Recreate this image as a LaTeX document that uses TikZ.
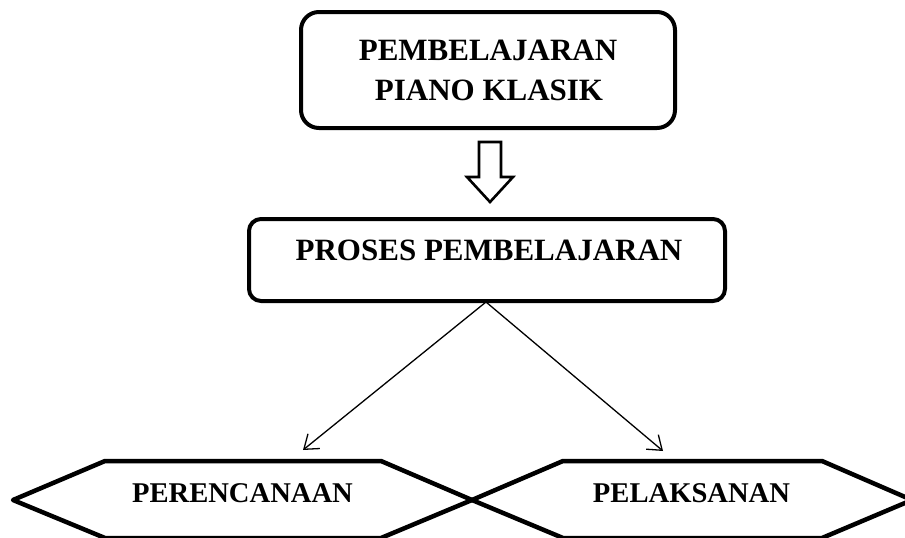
\documentclass[tikz,border=0pt]{standalone}
\usepackage{fontspec}
\setmainfont{Liberation Serif}
\usetikzlibrary{arrows.meta}
\tikzset{
  boxstyle/.style={draw=black, line width=4pt, fill=white, inner sep=0pt},
  boxtext/.style={font=\fontsize{31}{40}\selectfont\bfseries, inner sep=0pt, anchor=base},
  hextext/.style={font=\fontsize{28.6}{34}\selectfont\bfseries, inner sep=0pt, anchor=base},
  hexline/.style={draw=black, line width=4.5pt, line join=round},
  blockarrow/.style={draw=black, line width=2.6pt, line join=miter, fill=white},
  connector/.style={draw=black, line width=1.3pt, -{Straight Barb[length=13pt,width=19pt,line width=1.3pt]}}
}
\begin{document}
\begin{tikzpicture}[x=1pt, y=-1pt]
\useasboundingbox (0,0) rectangle (905,538);
% top box
\node[boxstyle, rounded corners=18pt, minimum width=374pt, minimum height=116pt] (top) at (488,70) {};
\node[boxtext] (topa) at (488,60) {PEMBELAJARAN};
\node[boxtext] (topb) at (489,100) {PIANO KLASIK};
% block arrow
\draw[blockarrow] (479,142) -- (501,142) -- (501,177) -- (513,177) -- (490,202) -- (467,177) -- (479,177) -- cycle;
% middle box
\node[boxstyle, rounded corners=12pt, minimum width=476pt, minimum height=82pt] (mid) at (487,260) {};
\node[boxtext] (midt) at (489,260) {PROSES PEMBELAJARAN};
% hexagons
\begin{scope}
\clip (0,0) rectangle (905,538);
\draw[hexline] (13,500) -- (105,461) -- (381,461) -- (472,500) -- (381,538) -- (105,538) -- cycle;
\draw[hexline] (472,500) -- (563,461) -- (822,461) -- (912,500) -- (822,538) -- (563,538) -- cycle;
\end{scope}
\node[hextext] (plan) at (242.5,502) {PERENCANAAN};
\node[hextext] (exec) at (691.5,502) {PELAKSANAN};
% connectors
\coordinate (apex) at (486,302);
\coordinate (tipL) at (303,450);
\coordinate (tipR) at (663,451);
\draw[connector] (apex) -- (tipL);
\draw[connector] (apex) -- (tipR);
\end{tikzpicture}
\end{document}
